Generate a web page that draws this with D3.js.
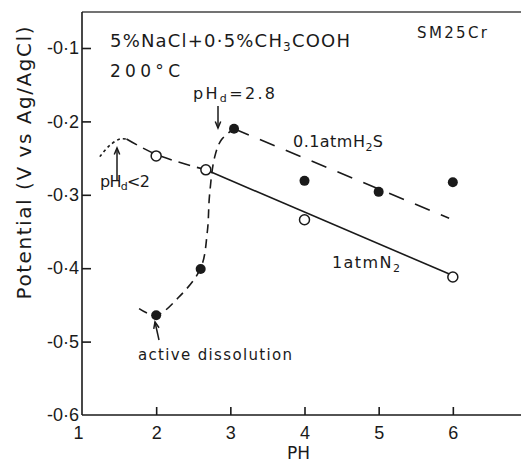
<!DOCTYPE html>
<meta charset="utf-8">
<style>
body { margin: 0; background: #fff; }
svg { font-family: "DejaVu Sans", sans-serif; fill: #1a1a1a; }
.axis path, .axis line { stroke: #1a1a1a; stroke-width: 1.6px; }
.axis text { fill: #1a1a1a; }
.fit { fill: none; stroke: #1a1a1a; stroke-width: 1.6px; }
</style>
<body>
<script src="https://d3js.org/d3.v7.min.js"></script>
<script>

// data
var phTicks = [1, 2, 3, 4, 5, 6, 7];
var potTicks = [-0.1, -0.2, -0.3, -0.4, -0.5, -0.6];

// 1 atm N2 (open circles)
var phN2 = [2, 2.67, 4, 6];
var potN2 = [-0.247, -0.266, -0.334, -0.412];

// 0.1 atm H2S (filled circles)
var phH2S = [2, 2.6, 3.05, 4, 5, 6];
var potH2S = [-0.464, -0.401, -0.21, -0.281, -0.296, -0.283];

// drawn curves
var lineN2Solid = [[2.67, -0.266], [6, -0.41]];
var lineN2Dash = [[1.6, -0.224], [2, -0.245], [2.67, -0.266]];
var lineN2Dot = [[1.24, -0.248], [1.37, -0.233], [1.51, -0.224], [1.6, -0.224]];
var curveH2S = [[1.77, -0.455], [2, -0.464], [2.3, -0.44], [2.6, -0.4], [2.69, -0.35],
                [2.72, -0.3], [2.79, -0.248], [2.88, -0.225], [3.05, -0.21]];
var lineH2S = [[3.05, -0.21], [5.95, -0.332]];

var width = 521, height = 473;

var x = d3.scaleLinear().domain([1, 7]).range([82, 527]);
var y = d3.scaleLinear().domain([-0.6, -0.1]).range([415, 48]);

var svg = d3.select("body").append("svg")
    .attr("width", width)
    .attr("height", height);

// frame top line
svg.append("line")
  .attr("x1", x(1)).attr("x2", width)
  .attr("y1", 12).attr("y2", 12)
  .attr("stroke", "#444").attr("stroke-width", 1.4);

// axes
var gx = svg.append("g")
  .attr("class", "axis")
  .attr("transform", "translate(0," + y(-0.6) + ")")
  .call(d3.axisBottom(x).tickValues(phTicks).tickSize(0).tickPadding(11).tickFormat(d3.format("d")));
gx.select(".domain").remove();
gx.selectAll(".tick text").style("font-size", "18px");
gx.selectAll(".tick").filter(function (d) { return d == 1; }).select("text").attr("dx", "-4");
gx.append("line").attr("x1", x(1)).attr("x2", width).attr("stroke", "#1a1a1a").attr("stroke-width", 1.6);
gx.selectAll(".tick").filter(function (d) { return d > 1; })
  .append("line").attr("y1", 0).attr("y2", -8);

var gy = svg.append("g")
  .attr("class", "axis")
  .attr("transform", "translate(" + x(1) + ",0)")
  .call(d3.axisLeft(y).tickValues(potTicks).tickSize(0).tickPadding(3)
        .tickFormat(function (d) { return d3.format(".1f")(d).replace(".", "·").replace("−", "-"); }));
gy.select(".domain").remove();
gy.selectAll(".tick text").style("font-size", "18px");
gy.append("line").attr("y1", 12).attr("y2", y(-0.6)).attr("stroke", "#1a1a1a").attr("stroke-width", 1.6);
gy.selectAll(".tick").filter(function (d) { return d > -0.6; })
  .append("line").attr("x1", 0).attr("x2", 9);

// lines
var line = d3.line().x(function (d) { return x(d[0]); }).y(function (d) { return y(d[1]); });
var curve = d3.line().curve(d3.curveCatmullRom.alpha(0.5))
  .x(function (d) { return x(d[0]); }).y(function (d) { return y(d[1]); });

svg.append("path").attr("class", "fit").attr("d", line(lineN2Solid));
svg.append("path").attr("class", "fit").attr("d", curve(lineN2Dash)).attr("stroke-dasharray", "12,7");
svg.append("path").attr("class", "fit").attr("d", curve(lineN2Dot)).attr("stroke-dasharray", "3,3");
svg.append("path").attr("class", "fit").attr("d", curve(curveH2S)).attr("stroke-dasharray", "9,6");
svg.append("path").attr("class", "fit").attr("d", line(lineH2S)).attr("stroke-dasharray", "16,12");

// points
svg.selectAll(".open").data(phN2).enter().append("circle")
  .attr("cx", function (d) { return x(d); })
  .attr("cy", function (d, i) { return y(potN2[i]); })
  .attr("r", 5).attr("fill", "#fff").attr("stroke", "#1a1a1a").attr("stroke-width", 1.5);

svg.selectAll(".filled").data(phH2S).enter().append("circle")
  .attr("cx", function (d) { return x(d); })
  .attr("cy", function (d, i) { return y(potH2S[i]); })
  .attr("r", 5).attr("fill", "#1a1a1a");

// text
function label(px, py, size, len, html) {
  return svg.append("text").attr("x", px).attr("y", py)
    .style("font-size", size + "px")
    .attr("textLength", len).attr("lengthAdjust", "spacing")
    .html(html);
}
label(110, 47, 18, 240, '5%NaCl+0·5%CH<tspan dy="4" font-size="12">3</tspan><tspan dy="-4">COOH</tspan>');
label(110, 77, 17, 70, '200°C');
label(417, 38, 15, 70, 'SM25Cr');
label(193, 99, 16, 82, 'pH<tspan dy="3" font-size="11">d</tspan><tspan dy="-3">=2.8</tspan>');
label(293, 147, 16, 90, '0.1atmH<tspan dy="4" font-size="11">2</tspan><tspan dy="-4">S</tspan>');
label(100, 187, 16, 50, 'pH<tspan dy="3" font-size="11">d</tspan><tspan dy="-3">&lt;2</tspan>');
label(332, 268, 16, 68, '1atmN<tspan dy="4" font-size="11">2</tspan>');
label(138, 360, 15, 154, 'active dissolution');

// arrows
function arrow(x1, y1, x2, y2) {
  svg.append("line").attr("x1", x1).attr("y1", y1).attr("x2", x2).attr("y2", y2)
    .attr("stroke", "#1a1a1a").attr("stroke-width", 1.5);
  var a = Math.atan2(y2 - y1, x2 - x1), h = 7;
  svg.append("path")
    .attr("d", "M" + (x2 - h * Math.cos(a - 0.4)) + "," + (y2 - h * Math.sin(a - 0.4)) +
               "L" + x2 + "," + y2 +
               "L" + (x2 - h * Math.cos(a + 0.4)) + "," + (y2 - h * Math.sin(a + 0.4)))
    .attr("fill", "none").attr("stroke", "#1a1a1a").attr("stroke-width", 1.5);
}
arrow(218, 106, 218, 128);
arrow(117, 180, 117, 148);
arrow(159, 340, 155, 322);

// axis labels
svg.append("text").attr("x", 287).attr("y", 459).style("font-size", "17px").text("PH");
svg.append("text")
  .attr("transform", "translate(31,163) rotate(-90)")
  .attr("text-anchor", "middle")
  .attr("textLength", 273).attr("lengthAdjust", "spacing")
  .style("font-size", "20px")
  .text("Potential (V vs Ag/AgCl)");

</script>
</body>
</html>
